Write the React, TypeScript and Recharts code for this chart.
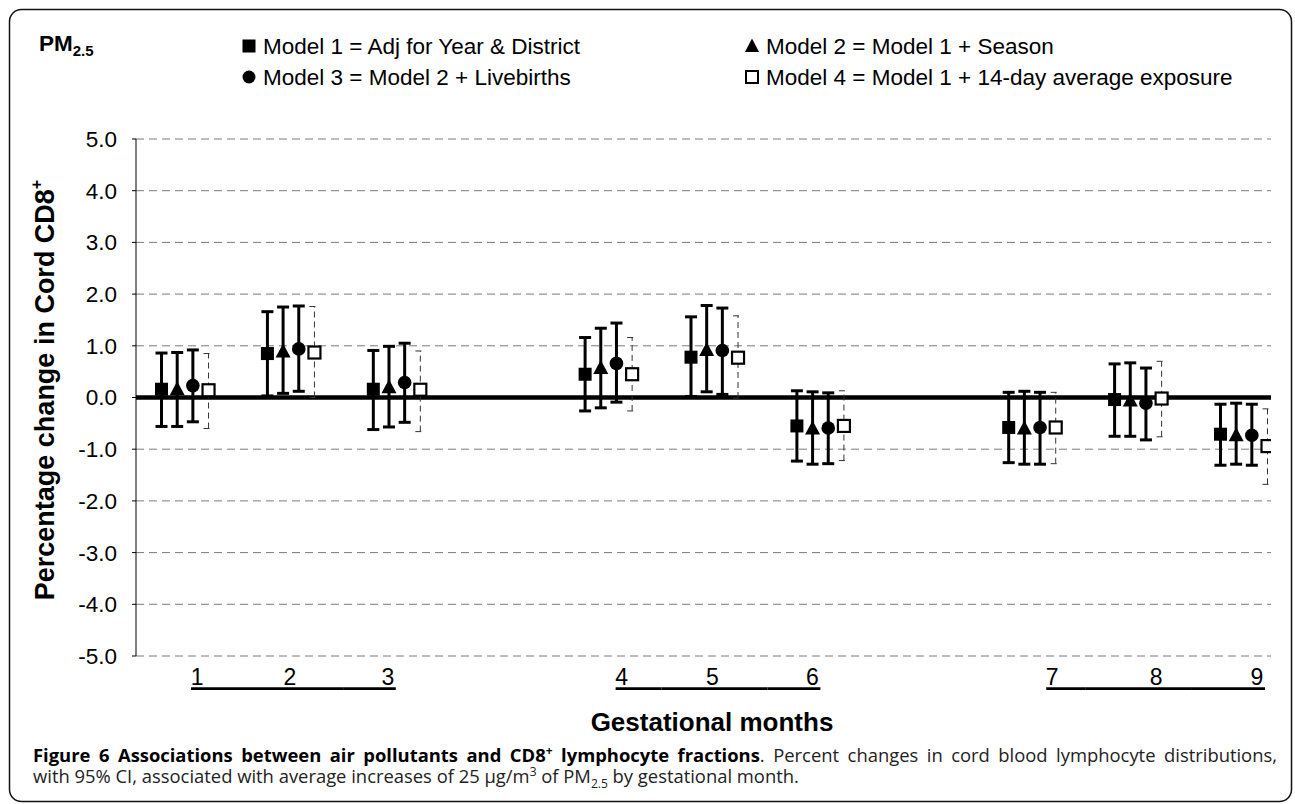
import React from 'react';
import { ComposedChart, Scatter, ErrorBar, XAxis, YAxis, CartesianGrid, ReferenceLine } from 'recharts';

// ---- data ----
const MONTHS = ['1', '2', '3', '4', '5', '6', '7', '8', '9'];
const MONTH_SLOTS = [0, 1, 2, 4, 5, 6, 8, 9, 10];
const Y_TICKS = [-5, -4, -3, -2, -1, 0, 1, 2, 3, 4, 5];

const MODEL_NAMES = [
  'Model 1 = Adj for Year & District',
  'Model 2 = Model 1 + Season',
  'Model 3 = Model 2 + Livebirths',
  'Model 4 = Model 1 + 14-day average exposure',
];

const M1_EST = [0.16, 0.85, 0.16, 0.45, 0.78, -0.55, -0.58, -0.04, -0.71];
const M1_LO = [-0.56, 0.03, -0.62, -0.26, 0.02, -1.23, -1.26, -0.75, -1.31];
const M1_HI = [0.86, 1.66, 0.91, 1.16, 1.56, 0.13, 0.1, 0.65, -0.13];

const M2_EST = [0.16, 0.89, 0.2, 0.57, 0.92, -0.6, -0.6, -0.06, -0.73];
const M2_LO = [-0.56, 0.08, -0.57, -0.2, 0.11, -1.29, -1.29, -0.75, -1.29];
const M2_HI = [0.87, 1.75, 0.99, 1.34, 1.78, 0.11, 0.12, 0.67, -0.11];

const M3_EST = [0.23, 0.94, 0.29, 0.66, 0.91, -0.59, -0.58, -0.11, -0.73];
const M3_LO = [-0.47, 0.12, -0.48, -0.09, 0.06, -1.28, -1.29, -0.82, -1.31];
const M3_HI = [0.92, 1.77, 1.05, 1.44, 1.73, 0.09, 0.1, 0.57, -0.13];

const M4_EST = [0.14, 0.87, 0.15, 0.45, 0.77, -0.55, -0.58, -0.02, -0.94];
const M4_LO = [-0.6, 0.0, -0.66, -0.26, -0.01, -1.22, -1.28, -0.76, -1.68];
const M4_HI = [0.85, 1.76, 0.9, 1.16, 1.58, 0.13, 0.1, 0.7, -0.22];

// ---- style / layout constants ----
const MODEL_OFFSETS = [-0.222, -0.074, 0.074, 0.222];
const TICK_DX = [12, -1, -9, 13, -2, -8, 20, 18, 13];
const X_DOMAIN = [-0.463, 10.255];
const CHART_W = 1295;
const CHART_H = 700;
const MARGIN = { top: 139, right: 24, left: 76, bottom: 14 };
const Y_AXIS_W = 60;
const PLOT_W = CHART_W - MARGIN.left - Y_AXIS_W - MARGIN.right;
const SLOT_PX = PLOT_W / (X_DOMAIN[1] - X_DOMAIN[0]);

const SANS = 'Arial, "Liberation Sans", Helvetica, sans-serif';

const buildRows = (est: number[], lo: number[], hi: number[], k: number) =>
  est.map((v, i) => ({
    x: MONTH_SLOTS[i] + MODEL_OFFSETS[k],
    y: v,
    err: [v - lo[i], hi[i] - v],
  }));

const DATA1 = buildRows(M1_EST, M1_LO, M1_HI, 0);
const DATA2 = buildRows(M2_EST, M2_LO, M2_HI, 1);
const DATA3 = buildRows(M3_EST, M3_LO, M3_HI, 2);
const DATA4 = buildRows(M4_EST, M4_LO, M4_HI, 3);

const FilledSquare = (p: any) => (
  <rect x={p.cx - 6.5} y={p.cy - 6.5} width={13} height={13} fill="#000" />
);
const FilledTriangle = (p: any) => (
  <polygon
    points={`${p.cx},${p.cy - 8} ${p.cx + 7.5},${p.cy + 6} ${p.cx - 7.5},${p.cy + 6}`}
    fill="#000"
  />
);
const FilledCircle = (p: any) => <circle cx={p.cx} cy={p.cy} r={6.8} fill="#000" />;
const OpenSquare = (p: any) => (
  <rect x={p.cx - 6} y={p.cy - 6} width={12} height={12} fill="#fff" stroke="#000" strokeWidth={2.2} />
);

const MonthTick = (props: any) => {
  const { x, y, index } = props;
  const pos = index % 3;
  const lx = x + TICK_DX[index];
  let x1 = x - SLOT_PX / 2;
  let x2 = x + SLOT_PX / 2;
  if (pos === 0) x1 = lx - 6;
  if (pos === 2) x2 = lx + 8;
  return (
    <g>
      <text x={lx} y={y + 29} textAnchor="middle" fontFamily={SANS} fontSize={23} fill="#000">
        {MONTHS[index]}
      </text>
      <line x1={x1} x2={x2} y1={y + 32.7} y2={y + 32.7} stroke="#000" strokeWidth={2.7} />
    </g>
  );
};

const LegendMarker = ({ kind, x, y }: { kind: number; x: number; y: number }) => {
  if (kind === 0) return <rect x={x - 6.5} y={y - 6.5} width={13} height={13} fill="#000" />;
  if (kind === 1)
    return <polygon points={`${x},${y - 7.5} ${x + 7},${y + 6} ${x - 7},${y + 6}`} fill="#000" />;
  if (kind === 2) return <circle cx={x} cy={y} r={6.5} fill="#000" />;
  return <rect x={x - 6} y={y - 6} width={12} height={12} fill="#fff" stroke="#000" strokeWidth={2} />;
};

const LEGEND_POS = [
  { x: 249, y: 46 },
  { x: 752, y: 46 },
  { x: 249, y: 77 },
  { x: 752, y: 77 },
];

export default function App() {
  return (
    <div style={{ position: 'relative', width: 1295, height: 804, overflow: 'hidden', background: '#fff' }}>
      <style>{'html,body{margin:0;padding:0;overflow:hidden;background:#fff}'}</style>

      <div style={{ position: 'absolute', left: 0, top: 0 }}>
        <ComposedChart width={CHART_W} height={CHART_H} margin={MARGIN}>
          <CartesianGrid vertical={false} stroke="#7a7a7a" strokeDasharray="8 5" />
          <XAxis
            type="number"
            dataKey="x"
            domain={X_DOMAIN}
            allowDataOverflow
            ticks={MONTH_SLOTS}
            interval={0}
            axisLine={false}
            tickLine={false}
            tickSize={0}
            tickMargin={0}
            height={30}
            tick={MonthTick}
          />
          <YAxis
            type="number"
            domain={[-5, 5]}
            ticks={Y_TICKS}
            interval={0}
            width={Y_AXIS_W}
            axisLine={{ stroke: '#000', strokeWidth: 1 }}
            tickLine={{ stroke: '#000', strokeWidth: 1 }}
            tickSize={4}
            tickMargin={15}
            tickFormatter={(v: number) => v.toFixed(1)}
            tick={{ fontFamily: SANS, fontSize: 22.5, fill: '#000' }}
          />
          <ReferenceLine y={0} stroke="#000" strokeWidth={4.5} />
          <Scatter data={DATA1} dataKey="y" shape={FilledSquare} isAnimationActive={false}>
            <ErrorBar dataKey="err" direction="y" width={6} stroke="#000" strokeWidth={3} isAnimationActive={false} />
          </Scatter>
          <Scatter data={DATA2} dataKey="y" shape={FilledTriangle} isAnimationActive={false}>
            <ErrorBar dataKey="err" direction="y" width={6} stroke="#000" strokeWidth={3} isAnimationActive={false} />
          </Scatter>
          <Scatter data={DATA3} dataKey="y" shape={FilledCircle} isAnimationActive={false}>
            <ErrorBar dataKey="err" direction="y" width={6} stroke="#000" strokeWidth={3} isAnimationActive={false} />
          </Scatter>
          <Scatter data={DATA4} dataKey="y" shape={OpenSquare} isAnimationActive={false}>
            <ErrorBar
              dataKey="err"
              direction="y"
              width={5}
              stroke="#333"
              strokeWidth={1}
              strokeDasharray="6 4"
              isAnimationActive={false}
            />
          </Scatter>
        </ComposedChart>
      </div>

      <svg
        width={1295}
        height={804}
        style={{ position: 'absolute', left: 0, top: 0, pointerEvents: 'none' }}
      >
        <rect x={9.5} y={9.5} width={1282} height={792} rx={12} ry={12} fill="none" stroke="#111" strokeWidth={1.5} />
        <text x={39} y={51} fontFamily={SANS} fontWeight="bold" fontSize={22.5} fill="#000">
          PM
          <tspan fontSize={15} dy={5}>
            2.5
          </tspan>
        </text>
        {MODEL_NAMES.map((name, k) => (
          <g key={name}>
            <LegendMarker kind={k} x={LEGEND_POS[k].x} y={LEGEND_POS[k].y} />
            <text x={LEGEND_POS[k].x + 14} y={LEGEND_POS[k].y + 8} fontFamily={SANS} fontSize={22.5} fill="#000">
              {name}
            </text>
          </g>
        ))}
        <text
          transform="translate(45,390) rotate(-90)"
          textAnchor="middle"
          dominantBaseline="central"
          fontFamily={SANS}
          fontWeight="bold"
          fontSize={27}
          fill="#000"
        >
          Percentage change in Cord CD8
          <tspan fontSize={16} baselineShift="super">
            +
          </tspan>
        </text>
        <text x={712} y={731} textAnchor="middle" fontFamily={SANS} fontWeight="bold" fontSize={26} fill="#000">
          Gestational months
        </text>
      </svg>

      <div
        style={{
          position: 'absolute',
          left: 33,
          top: 744,
          width: 1244,
          fontFamily: '"Open Sans", "Noto Sans", sans-serif',
          fontSize: 18.4,
          lineHeight: '21px',
          color: '#222',
        }}
      >
        <div style={{ textAlign: 'justify', textAlignLast: 'justify', whiteSpace: 'nowrap' as any }}>
          <span style={{ fontWeight: 'bold', color: '#000' }}>
            Figure 6 Associations between air pollutants and CD8
            <sup style={{ fontSize: 12, lineHeight: 0 }}>+</sup> lymphocyte fractions
          </span>
          . Percent changes in cord blood lymphocyte distributions,
        </div>
        <div>
          with 95% CI, associated with average increases of 25 μg/m
          <sup style={{ fontSize: 12, lineHeight: 0 }}>3</sup> of PM
          <sub style={{ fontSize: 12, lineHeight: 0 }}>2.5</sub> by gestational month.
        </div>
      </div>
    </div>
  );
}
